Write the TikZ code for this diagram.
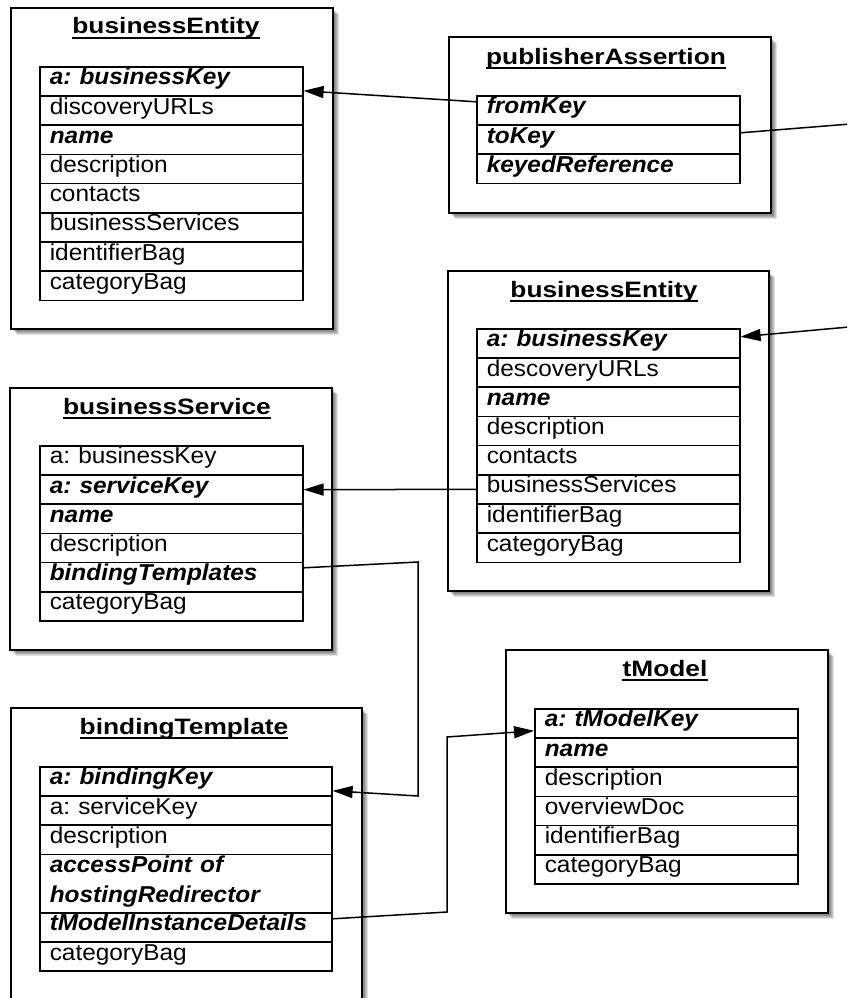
\documentclass[tikz,border=0pt]{standalone}
\usepackage{fontspec}
\setmainfont{Liberation Sans}
\usepackage{graphicx}
\usetikzlibrary{arrows.meta}
\frenchspacing

% slightly widened lettering
\newcommand\bodytxt[1]{\scalebox{1.06}[1]{#1}}
\newcommand\keytxt[1]{\scalebox{1.06}[1]{\textbf{\textit{#1}}}}
\newcommand\titletxt[1]{\scalebox{1.18}[1]{#1}}

\tikzset{
  frame/.style={draw, line width=2pt, fill=white, inner sep=0pt, anchor=north west,
    preaction={fill=black, opacity=0.12, transform canvas={xshift=2pt,yshift=-2pt}},
    preaction={fill=black, opacity=0.12, transform canvas={xshift=3pt,yshift=-3pt}},
    preaction={fill=black, opacity=0.12, transform canvas={xshift=4pt,yshift=-4pt}},
    preaction={fill=black, opacity=0.12, transform canvas={xshift=5pt,yshift=-5pt}},
    preaction={fill=black, opacity=0.12, transform canvas={xshift=6pt,yshift=-6pt}}},
  title/.style={inner sep=0pt, anchor=base, font=\bfseries\fontsize{22.3}{26}\selectfont},
  cell/.style={draw, line width=1.6pt, anchor=north west, inner xsep=10pt, inner ysep=0pt,
    text width=243pt, align=left, text height=18pt, text depth=11.2pt,
    font=\fontsize{23}{30}\selectfont},
  cellw/.style={cell, text width=272pt},
  link/.style={line width=1.5pt},
  arr/.style={link, -{Triangle[length=20pt,width=12pt]}}
}

\newcommand\titleline[1]{\draw[line width=1.5pt] ([yshift=-4pt]#1.base west) -- ([yshift=-4pt]#1.base east);}

\begin{document}
\begin{tikzpicture}[x=1pt,y=-1pt]
\useasboundingbox (0,0) rectangle (847,998);
\clip (0,0) rectangle (847,998);

% outer class frames
\node[frame, minimum width=322pt, minimum height=321pt] (BE1) at (10,7) {};
\node[frame, minimum width=322pt, minimum height=176pt] (PA) at (448,36) {};
\node[frame, minimum width=321pt, minimum height=320pt] (BE2) at (447,270) {};
\node[frame, minimum width=322pt, minimum height=262pt] (BS) at (9,387) {};
\node[frame, minimum width=351pt, minimum height=330pt] (BT) at (10,707) {};
\node[frame, minimum width=322pt, minimum height=263pt] (TM) at (505,649) {};

% titles
\node[title] (tBE1) at (166,34) {\titletxt{businessEntity}}; \titleline{tBE1}
\node[title] (tPA) at (606,64) {\titletxt{publisherAssertion}}; \titleline{tPA}
\node[title] (tBE2) at (604,297) {\titletxt{businessEntity}}; \titleline{tBE2}
\node[title] (tBS) at (167,414) {\titletxt{businessService}}; \titleline{tBS}
\node[title] (tBT) at (184,734) {\titletxt{bindingTemplate}}; \titleline{tBT}
\node[title] (tTM) at (665,676) {\titletxt{tModel}}; \titleline{tTM}

% businessEntity (left)
\node[cell] (a1) at (39,66.0)  {\keytxt{a: businessKey}};
\node[cell] (a2) at (39,95.2)  {\bodytxt{discoveryURLs}};
\node[cell] (a3) at (39,124.4) {\keytxt{name}};
\node[cell] (a4) at (39,153.6) {\bodytxt{description}};
\node[cell] (a5) at (39,182.8) {\bodytxt{contacts}};
\node[cell] (a6) at (39,212.0) {\bodytxt{businessServices}};
\node[cell] (a7) at (39,241.2) {\bodytxt{identifierBag}};
\node[cell] (a8) at (39,270.4) {\bodytxt{categoryBag}};

% publisherAssertion
\node[cell] (b1) at (476,95.0)  {\keytxt{fromKey}};
\node[cell] (b2) at (476,124.2) {\keytxt{toKey}};
\node[cell] (b3) at (476,153.4) {\keytxt{keyedReference}};

% businessEntity (right)
\node[cell] (c1) at (476,328.0) {\keytxt{a: businessKey}};
\node[cell] (c2) at (476,357.2) {\bodytxt{descoveryURLs}};
\node[cell] (c3) at (476,386.4) {\keytxt{name}};
\node[cell] (c4) at (476,415.6) {\bodytxt{description}};
\node[cell] (c5) at (476,444.8) {\bodytxt{contacts}};
\node[cell] (c6) at (476,474.0) {\bodytxt{businessServices}};
\node[cell] (c7) at (476,503.2) {\bodytxt{identifierBag}};
\node[cell] (c8) at (476,532.4) {\bodytxt{categoryBag}};

% businessService
\node[cell] (d1) at (39,445.0) {\bodytxt{a: businessKey}};
\node[cell] (d2) at (39,474.2) {\keytxt{a: serviceKey}};
\node[cell] (d3) at (39,503.4) {\keytxt{name}};
\node[cell] (d4) at (39,532.6) {\bodytxt{description}};
\node[cell] (d5) at (39,561.8) {\keytxt{bindingTemplates}};
\node[cell] (d6) at (39,591.0) {\bodytxt{categoryBag}};

% bindingTemplate
\node[cellw] (e1) at (39,766.0) {\keytxt{a: bindingKey}};
\node[cellw] (e2) at (39,795.2) {\bodytxt{a: serviceKey}};
\node[cellw] (e3) at (39,824.4) {\bodytxt{description}};
\node[cellw, text depth=40.4pt] (e4) at (39,853.6) {\keytxt{accessPoint of}\\\keytxt{hostingRedirector}};
\node[cellw] (e5) at (39,912.0) {\keytxt{tModelInstanceDetails}};
\node[cellw] (e6) at (39,941.2) {\bodytxt{categoryBag}};

% tModel
\node[cell] (f1) at (534,708.0) {\keytxt{a: tModelKey}};
\node[cell] (f2) at (534,737.2) {\keytxt{name}};
\node[cell] (f3) at (534,766.4) {\bodytxt{description}};
\node[cell] (f4) at (534,795.6) {\bodytxt{overviewDoc}};
\node[cell] (f5) at (534,824.8) {\bodytxt{identifierBag}};
\node[cell] (f6) at (534,854.0) {\bodytxt{categoryBag}};

% routing points
\coordinate (r1) at (880,121.6);
\coordinate (r2) at (880,324.2);
\coordinate (s1) at (418,562);
\coordinate (s2) at (418,796);
\coordinate (m1) at (447,912);
\coordinate (m2) at (447,737);

% references between keys
\draw[arr] ([yshift=8.6pt]b1.west) -- ([yshift=-9.4pt]a1.east);
\draw[arr] ([yshift=6.8pt]b2.east) -- (r1) -- (r2) -- ([yshift=6.6pt]c1.east);
\draw[arr] (c6.west) -- (d2.east);
\draw[arr] ([yshift=9.4pt]d5.east) -- (s1) -- (s2) -- ([yshift=-9.4pt]e1.east);
\draw[arr] ([yshift=8.6pt]e5.east) -- (m1) -- (m2) -- ([yshift=-7.4pt]f1.west);
\end{tikzpicture}
\end{document}
